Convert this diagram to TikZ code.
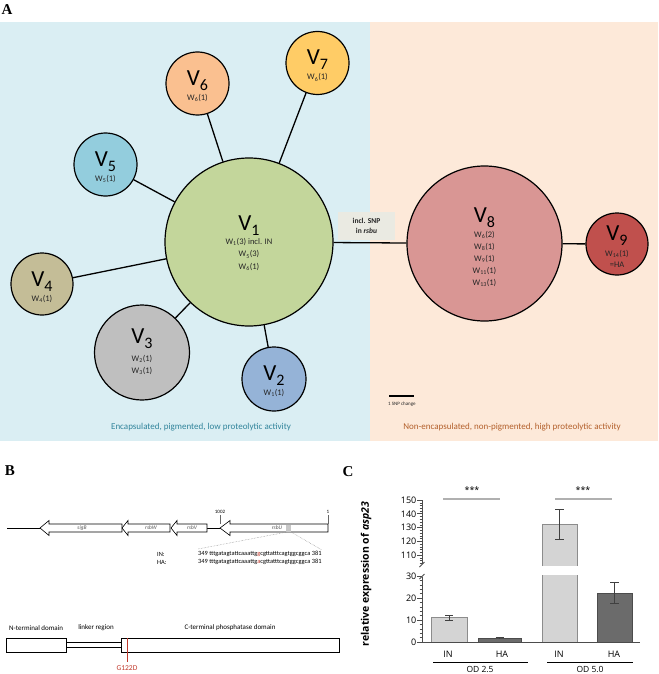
\documentclass[tikz,border=0pt]{standalone}
\usepackage{fontspec}
\setmainfont{Carlito}
\newfontfamily\osans{Open Sans}
\newfontfamily\serifb{Liberation Serif}
\usetikzlibrary{calc}
\definecolor{bgblue}{HTML}{DAEEF3}
\definecolor{bgpeach}{HTML}{FDE9D9}
\definecolor{cVa}{HTML}{C3D69B}
\definecolor{cVb}{HTML}{95B3D7}
\definecolor{cVc}{HTML}{BFBFBF}
\definecolor{cVd}{HTML}{C4BD97}
\definecolor{cVe}{HTML}{93CDDD}
\definecolor{cVf}{HTML}{FAC090}
\definecolor{cVg}{HTML}{FFCC66}
\definecolor{cVh}{HTML}{D99694}
\definecolor{cVi}{HTML}{C0504D}
\definecolor{txtdark}{HTML}{262626}
\definecolor{encap}{HTML}{31849B}
\definecolor{nonencap}{HTML}{B3602C}
\definecolor{snpbox}{HTML}{EAEAE2}
\definecolor{barlight}{HTML}{D4D4D4}
\definecolor{bardark}{HTML}{6B6B6B}
\definecolor{siggrey}{HTML}{B0B0B0}
\definecolor{mutred}{HTML}{C0392B}
\definecolor{genegrey}{HTML}{555555}
\newcommand\vlab[1]{{\fontsize{23}{23}\selectfont V}\raisebox{-5pt}{\fontsize{16}{16}\selectfont #1}}
\newcommand\wsub[1]{\textsubscript{#1}}
\newcommand\genearrow[4]{\draw[genebox] (#1,#4) -- (#2,#4-7.5) -- (#2,#4-4) -- (#3,#4-4) -- (#3,#4+4) -- (#2,#4+4) -- (#2,#4+7.5) -- cycle;}
\tikzset{
 vnode/.style={circle, draw=black, line width=1.2pt, inner sep=0pt},
 conn/.style={line width=1.3pt, black},
 vt/.style={inner sep=0pt, text=black, anchor=base},
 wt/.style={inner sep=0pt, align=center, text=txtdark, font=\fontsize{8.5}{12}\selectfont},
 plab/.style={inner sep=0pt, font=\serifb\bfseries\fontsize{15}{15}\selectfont},
 genebox/.style={draw=black, line width=0.6pt, fill=white},
 genelab/.style={inner sep=0pt, text=genegrey, font=\itshape\fontsize{5.5}{6}\selectfont},
 tiny/.style={inner sep=0pt, font=\fontsize{5}{6}\selectfont},
 seq/.style={inner sep=0pt, font=\fontsize{6.4}{7}\selectfont},
 domlab/.style={inner sep=0pt, font=\fontsize{7}{8}\selectfont},
 dom/.style={draw=black, line width=0.6pt, inner sep=0pt, anchor=north west, minimum height=14pt},
 axis/.style={line width=0.8pt, black!70},
 ctxt/.style={inner sep=0pt, font=\osans\fontsize{9}{10}\selectfont},
 barL/.style={fill=barlight, draw=black!45, line width=0.8pt},
 barD/.style={fill=bardark, draw=black!70, line width=0.8pt},
 err/.style={line width=0.8pt, black!75},
 sig/.style={line width=1.6pt, siggrey},
}
\begin{document}
\begin{tikzpicture}[x=1pt,y=-1pt]
\useasboundingbox (0,0) rectangle (658,674);
% ---------- Panel A ----------
\fill[bgblue] (0,22) rectangle (370,441);
\fill[bgpeach] (370,22) rectangle (658,441);
\node[plab] (labA) at (7,9.5) {A};

\node[vnode, fill=cVa, minimum size=168pt] (V1) at (249,242) {};
\node[vnode, fill=cVb, minimum size=64pt] (V2) at (274,379) {};
\node[vnode, fill=cVc, minimum size=95pt] (V3) at (142,352.5) {};
\node[vnode, fill=cVd, minimum size=62pt] (V4) at (42,284) {};
\node[vnode, fill=cVe, minimum size=63pt] (V5) at (105.5,164.5) {};
\node[vnode, fill=cVf, minimum size=63pt] (V6) at (197.5,83.5) {};
\node[vnode, fill=cVg, minimum size=63pt] (V7) at (317.5,63) {};
\node[vnode, fill=cVh, minimum size=155pt] (V8) at (484.5,243.5) {};
\node[vnode, fill=cVi, minimum size=62pt] (V9) at (617,244) {};

\draw[conn] (V1) -- (V2);
\draw[conn] (V1) -- (V3);
\draw[conn] (V1) -- (V4);
\draw[conn] (V1) -- (V5);
\draw[conn] (V1) -- (V6);
\draw[conn] (V1) -- (V7);
\draw[conn] (V1) -- (V8);
\draw[conn] (V8) -- (V9);

\node[fill=snpbox, minimum width=57pt, minimum height=28pt, inner sep=0pt, align=center,
  font=\bfseries\fontsize{7.5}{10}\selectfont, text=txtdark] (snp) at (366.5,226) {incl. SNP\\in \textit{rsbu}};

\node[vt] (V1v) at (249,230) {\vlab{1}};
\node[wt, font=\fontsize{8.5}{12.5}\selectfont] (V1w) at (249,254.5) {W\wsub{1}(3) incl. IN\\W\wsub{5}(3)\\W\wsub{6}(1)};
\node[vt] (V2v) at (274,380) {\vlab{2}};
\node[wt] (V2w) at (274,392.5) {W\wsub{1}(1)};
\node[vt] (V3v) at (142,343) {\vlab{3}};
\node[wt] (V3w) at (142,365) {W\wsub{2}(1)\\W\wsub{3}(1)};
\node[vt] (V4v) at (42,286) {\vlab{4}};
\node[wt] (V4w) at (42,298.5) {W\wsub{4}(1)};
\node[vt] (V5v) at (105.5,166.5) {\vlab{5}};
\node[wt] (V5w) at (105.5,179) {W\wsub{5}(1)};
\node[vt] (V6v) at (197.5,85.5) {\vlab{6}};
\node[wt] (V6w) at (197.5,98) {W\wsub{6}(1)};
\node[vt] (V7v) at (317.5,65) {\vlab{7}};
\node[wt] (V7w) at (317.5,77.5) {W\wsub{6}(1)};
\node[vt] (V8v) at (484.5,222) {\vlab{8}};
\node[wt] (V8w) at (484.5,258.5) {W\wsub{6}(2)\\W\wsub{8}(1)\\W\wsub{9}(1)\\W\wsub{11}(1)\\W\wsub{13}(1)};
\node[vt] (V9v) at (617,240) {\vlab{9}};
\node[wt, font=\fontsize{8.5}{11}\selectfont] (V9w) at (617,258.5) {W\wsub{14}(1)\\=HA};

\coordinate (sbA) at (389,396);
\coordinate (sbB) at (414,396);
\draw[line width=1.3pt] (sbA) -- (sbB);
\node[tiny, anchor=north west, text=txtdark] (sbl) at (388,402) {1 SNP change};

\node[inner sep=0pt, font=\fontsize{9}{10}\selectfont, text=encap] (enc) at (201,427) {Encapsulated, pigmented, low proteolytic activity};
\node[inner sep=0pt, font=\fontsize{9}{10}\selectfont, text=nonencap] (nonenc) at (512,427) {Non-encapsulated, non-pigmented, high proteolytic activity};

% ---------- Panel B ----------
\node[plab] (labB) at (10,471) {B};
\coordinate (lnA) at (7,528);
\coordinate (lnB) at (40,528);
\draw[line width=0.8pt] (lnA) -- (lnB);
\coordinate (lnC) at (207,528);
\coordinate (lnD) at (220,528);
\draw[line width=0.8pt] (lnC) -- (lnD);
\genearrow{40}{49}{122}{528}
\genearrow{122}{128}{170}{528}
\genearrow{171}{177}{207}{528}
\genearrow{220}{230}{328}{528}
\node[genelab] (gsigB) at (82,528) {sigB};
\node[genelab] (grsbW) at (151,528) {rsbW};
\node[genelab] (grsbV) at (192,528) {rsbV};
\node[genelab] (grsbU) at (277,528) {rsbU};
\fill[black!22] (286,524.5) rectangle (291,531.5);
\coordinate (tkA) at (220,515);
\coordinate (tkB) at (220,524);
\coordinate (tkC) at (328,515);
\coordinate (tkD) at (328,524);
\draw[line width=0.5pt, black!60] (tkA) -- (tkB);
\draw[line width=0.5pt, black!60] (tkC) -- (tkD);
\node[tiny, anchor=south, font=\fontsize{5}{5}\selectfont] (n1002) at (220,513.5) {1002};
\node[tiny, anchor=south, font=\fontsize{5}{5}\selectfont] (n1) at (328,513.5) {1};

\node[seq, anchor=west] (inlab) at (157,554) {IN:};
\node[seq, anchor=west] (halab) at (157,562) {HA:};
\node[seq, anchor=west] (inseq) at (198,554) {349 tttgatagtattcaaattg\textcolor{mutred}{g}cgttatttcagtggcggca 381};
\node[seq, anchor=west] (haseq) at (198,562) {349 tttgatagtattcaaattg\textcolor{mutred}{a}cgttatttcagtggcggca 381};
\coordinate (zL) at (287,532);
\coordinate (zR) at (291,532);
\coordinate (zLe) at (198,549);
\coordinate (zRe) at (322,550);
\draw[densely dotted, black!45, line width=0.5pt] (zL) -- (zLe);
\draw[densely dotted, black!45, line width=0.5pt] (zR) -- (zRe);

\node[dom, minimum width=60pt] (ndom) at (6,638) {};
\node[dom, minimum width=218pt] (cdom) at (121,638) {};
\draw[line width=0.6pt] ($(ndom.north east)+(0,4)$) -- ($(cdom.north west)+(0,4)$);
\draw[line width=0.6pt] ($(ndom.north east)+(0,9)$) -- ($(cdom.north west)+(0,9)$);
\coordinate (mutA) at (127,638);
\coordinate (mutB) at (127,662);
\draw[mutred, line width=0.8pt] (mutA) -- (mutB);
\node[inner sep=0pt, text=mutred, font=\fontsize{7.5}{8}\selectfont] (mutlab) at (127,668) {G122D};
\node[domlab, anchor=west] (ntlab) at (9,628) {N-terminal domain};
\node[domlab] (lklab) at (96,628) {linker region};
\node[domlab] (ctlab) at (230,628) {C-terminal phosphatase domain};

% ---------- Panel C ----------
\node[plab] (labC) at (348,472) {C};
\draw[axis] (422,500) -- (422,564);
\draw[axis] (422,577) -- (422,642) -- (640,642);
\draw[axis] (419.5,567) -- (424.5,562);
\draw[axis] (419.5,579) -- (424.5,574);
\foreach \v in {110,120,130,140,150} {
  \pgfmathsetmacro\yy{500+(150-\v)*1.38}
  \draw[axis] (417,\yy) -- (422,\yy);
  \node[ctxt, anchor=east] (tu\v) at (416.5,\yy) {\v};
}
\foreach \v in {104,106,108,112,114,116,118,122,124,126,128,132,134,136,138,142,144,146,148} {
  \pgfmathsetmacro\yy{500+(150-\v)*1.38}
  \draw[axis, line width=0.5pt] (419.5,\yy) -- (422,\yy);
}
\foreach \v in {0,10,20,30} {
  \pgfmathsetmacro\yy{642-2.2*\v}
  \draw[axis] (417,\yy) -- (422,\yy);
  \node[ctxt, anchor=east] (tl\v) at (416.5,\yy) {\v};
}
\foreach \v in {2,4,6,8,12,14,16,18,22,24,26,28} {
  \pgfmathsetmacro\yy{642-2.2*\v}
  \draw[axis, line width=0.5pt] (419.5,\yy) -- (422,\yy);
}
% bars
\draw[barL] (431,617.8) rectangle (467,642);
\draw[barD] (478,638.3) rectangle (521,642);
\filldraw[barL] (542,566) -- (542,524.2) -- (577,524.2) -- (577,566);
\filldraw[barL] (542,575) -- (542,642) -- (577,642) -- (577,575);
\draw[barD] (597,593.6) rectangle (632,642);
\draw[axis] (422,642) -- (640,642);
% error bars
\draw[err] (449,615) -- (449,620) (445,615) -- (453,615) (445,620) -- (453,620);
\draw[err] (499.5,637.4) -- (499.5,639.2) (495.5,637.4) -- (503.5,637.4);
\draw[err] (559.5,509) -- (559.5,539.3) (555,509) -- (564,509) (555,539.3) -- (564,539.3);
\draw[err] (614.5,582.6) -- (614.5,603.5) (610,582.6) -- (619,582.6) (610,603.5) -- (619,603.5);
% significance
\draw[sig] (443,499) -- (500,499);
\draw[sig] (555,499) -- (612,499);
\node[ctxt] (sigA) at (472,490.5) {***};
\node[ctxt] (sigB) at (583,490.5) {***};
% x labels
\node[ctxt] (xa) at (448,654) {IN};
\node[ctxt] (xb) at (502,654) {HA};
\node[ctxt] (xc) at (559,654) {IN};
\node[ctxt] (xd) at (614,654) {HA};
\draw[line width=0.6pt] (433,662) -- (528,662);
\draw[line width=0.6pt] (547,662) -- (633,662);
\node[ctxt, anchor=base, font=\osans\fontsize{8.5}{9}\selectfont] (oda) at (480,672.5) {OD 2.5};
\node[ctxt, anchor=base, font=\osans\fontsize{8.5}{9}\selectfont] (odb) at (590,672.5) {OD 5.0};
\node[inner sep=0pt, rotate=90, font=\osans\bfseries\fontsize{10.5}{11}\selectfont] (ylab) at (366,574) {relative expression of \textit{asp23}};
\end{tikzpicture}
\end{document}
